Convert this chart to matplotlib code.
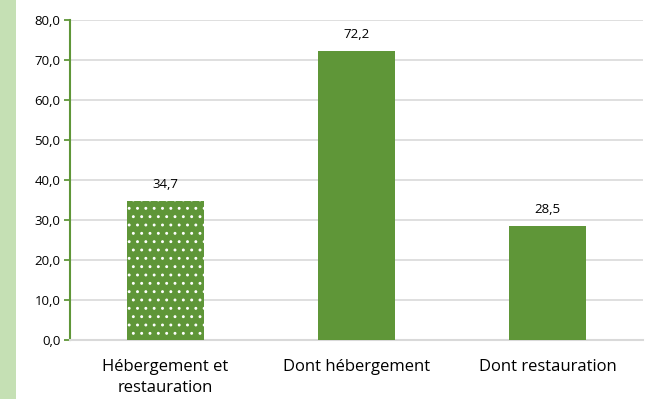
import matplotlib
matplotlib.use("Agg")
import matplotlib.pyplot as plt
from matplotlib.patches import Rectangle

plt.rcParams['font.family'] = ['Open Sans', 'DejaVu Sans']
plt.rcParams['hatch.linewidth'] = 0.9

categories = ["Hébergement et\nrestauration", "Dont hébergement", "Dont restauration"]
values = [34.7, 72.2, 28.5]
yticks = [0, 10, 20, 30, 40, 50, 60, 70, 80]

green = "#5f9638"
grid = "#d9d9d9"

fig = plt.figure(figsize=(6.49, 3.99), dpi=100)
fig.patches.append(Rectangle((0, 0), 16 / 649, 1, transform=fig.transFigure,
                             facecolor="#c5e0b4", edgecolor="none", zorder=0))

ax = fig.add_axes([70 / 649, 59 / 399, 573 / 649, 320 / 399])
x = range(len(categories))
bars = ax.bar(x, values, width=0.4, color=green, zorder=3)
bars[0].set_hatch('..')
bars[0].set_edgecolor('white')
bars[0].set_linewidth(0)

for xi, v in zip(x, values):
    ax.text(xi, v + 2.6, f"{v:.1f}".replace('.', ','), ha='center', va='bottom',
            fontsize=9.5, color='#000000')

ax.set_xlim(-0.5, 2.5)
ax.set_ylim(0, 80)
ax.set_yticks(yticks)
ax.set_yticklabels([f"{t:.1f}".replace('.', ',') for t in yticks], fontsize=9.5)
ax.set_xticks(list(x))
ax.set_xticklabels(categories, fontsize=12, linespacing=1.35)
ax.tick_params(axis='x', length=0, pad=14)
ax.tick_params(axis='y', length=4, color=green, width=1.3, pad=3)
ax.yaxis.grid(True, color=grid, linewidth=1.2, zorder=0)
ax.set_axisbelow(True)
for s in ['top', 'right']:
    ax.spines[s].set_visible(False)
ax.spines['left'].set_color(green)
ax.spines['left'].set_linewidth(1.5)
ax.spines['bottom'].set_color(grid)
ax.spines['bottom'].set_linewidth(1.5)

fig.savefig("out.png", dpi=100)
